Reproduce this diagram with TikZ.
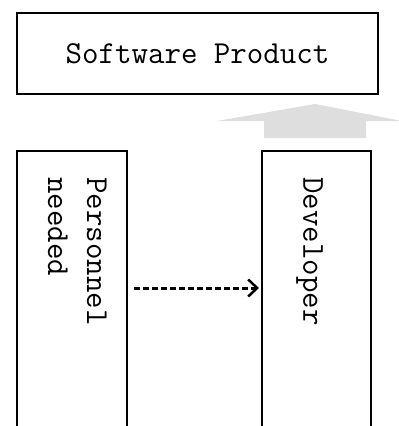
\documentclass[tikz,border=0pt]{standalone}
\usepackage{fontspec}
\usetikzlibrary{arrows.meta}
\tikzset{
  boxstyle/.style={draw=black, line width=2pt, inner sep=0pt},
  lbl/.style={font=\ttfamily\fontsize{32}{39}\selectfont, inner sep=0pt, text=black},
  dasharrow/.style={line width=3pt, dash pattern=on 6pt off 3pt, -{Straight Barb[length=9pt,width=17pt,line width=2.5pt]}},
}
\begin{document}
\begin{tikzpicture}[x=1pt,y=-1pt]
\useasboundingbox (0,0) rectangle (399,426);
\clip (0,0) rectangle (399,426);
\fill[white] (0,0) rectangle (399,426);
% top box
\node[boxstyle, minimum width=361pt, minimum height=81pt, lbl] (soft) at (197.5,53.5) {Software Product};
% gray arrow
\fill[black!13] (315,104) -- (402,121) -- (366,121) -- (366,138) -- (264,138) -- (264,121) -- (217,121) -- cycle;
% lower boxes
\node[boxstyle, minimum width=110pt, minimum height=400pt, anchor=north] (pers) at (72,150) {};
\node[boxstyle, minimum width=109pt, minimum height=400pt, anchor=north] (dev) at (316.5,150) {};
\node[lbl, rotate=-90, anchor=north west, align=left] (perst) at (107,177) {Personnel\\needed};
\node[lbl, rotate=-90, anchor=north west] (devt) at (323,177) {Developer};
\coordinate (ay) at (0,288);
\draw[dasharrow] ([xshift=6pt]pers.east |- ay) -- ([xshift=-2pt]dev.west |- ay);
\end{tikzpicture}
\end{document}
